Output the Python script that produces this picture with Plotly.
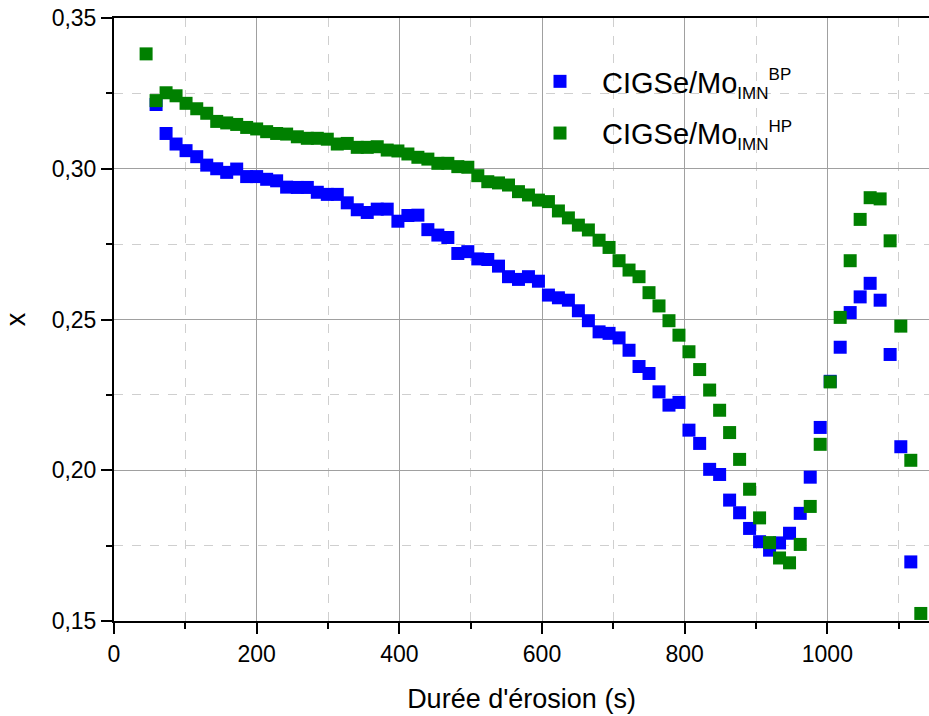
import plotly.graph_objects as go

# Erosion time (s) of each measurement
time_hp = [45, 59, 73, 87, 101, 116, 130, 144, 158, 172, 186, 200, 214, 228, 242, 257,
           271, 285, 299, 313, 327, 341, 355, 369, 383, 398, 412, 426, 440, 454, 468, 482,
           496, 510, 524, 539, 553, 567, 581, 595, 609, 623, 637, 651, 665, 680, 694, 708,
           722, 736, 750, 764, 778, 792, 806, 821, 835, 849, 863, 877, 891, 905, 919, 933,
           947, 962, 976, 990, 1004, 1018, 1032, 1046, 1060, 1074, 1088, 1103, 1117, 1131]
time_bp = time_hp[1:77]

# x values, CIGSe/Mo IMN HP (green)
x_hp = [0.3381, 0.3226, 0.3252, 0.3242, 0.3217, 0.3199, 0.3184, 0.3157, 0.3152, 0.3147,
        0.3137, 0.3132, 0.3123, 0.3117, 0.3115, 0.3106, 0.3101, 0.3101, 0.3098, 0.3082,
        0.3084, 0.3071, 0.3071, 0.3073, 0.3062, 0.3059, 0.3049, 0.3038, 0.3032, 0.3018,
        0.3018, 0.3007, 0.3005, 0.2977, 0.2957, 0.2953, 0.2946, 0.2924, 0.2913, 0.2896,
        0.2891, 0.2860, 0.2837, 0.2813, 0.2797, 0.2763, 0.2739, 0.2695, 0.2664, 0.2642,
        0.2589, 0.2545, 0.2496, 0.2448, 0.2393, 0.2334, 0.2266, 0.2199, 0.2125, 0.2036,
        0.1937, 0.1842, 0.1760, 0.1709, 0.1693, 0.1754, 0.1880, 0.2086, 0.2293, 0.2507,
        0.2695, 0.2832, 0.2904, 0.2900, 0.2761, 0.2478, 0.2033, 0.1525]

# x values, CIGSe/Mo IMN BP (blue)
x_bp = [0.3213, 0.3117, 0.3082, 0.3060, 0.3040, 0.3012, 0.3000, 0.2988, 0.2999, 0.2974,
        0.2974, 0.2965, 0.2960, 0.2939, 0.2938, 0.2938, 0.2922, 0.2915, 0.2915, 0.2887,
        0.2864, 0.2855, 0.2866, 0.2866, 0.2826, 0.2845, 0.2846, 0.2798, 0.2780, 0.2772,
        0.2719, 0.2725, 0.2701, 0.2699, 0.2677, 0.2642, 0.2633, 0.2642, 0.2627, 0.2581,
        0.2572, 0.2564, 0.2529, 0.2496, 0.2459, 0.2454, 0.2439, 0.2398, 0.2344, 0.2321,
        0.2260, 0.2216, 0.2225, 0.2133, 0.2089, 0.2003, 0.1986, 0.1901, 0.1859, 0.1807,
        0.1763, 0.1735, 0.1759, 0.1791, 0.1857, 0.1977, 0.2142, 0.2295, 0.2408, 0.2523,
        0.2575, 0.2620, 0.2564, 0.2384, 0.2078, 0.1696]

y_tickvals = [0.15, 0.20, 0.25, 0.30, 0.35]
y_ticktext = ["0,15", "0,20", "0,25", "0,30", "0,35"]
x_tickvals = [0, 200, 400, 600, 800, 1000]
x_ticktext = ["0", "200", "400", "600", "800", "1000"]

name_bp = ('CIGSe/Mo<sub><span style="font-size:17px">IMN</span></sub>'
           '<sup><span style="font-size:17px">BP</span></sup>')
name_hp = ('CIGSe/Mo<sub><span style="font-size:17px">IMN</span></sub>'
           '<sup><span style="font-size:17px">HP</span></sup>')

FONT = "Liberation Sans, Arial, sans-serif"

fig = go.Figure()
fig.add_trace(go.Scatter(x=time_bp, y=x_bp, mode="markers", name=name_bp,
                         legendgroup="bp",
                         marker=dict(symbol="square", size=13, color="#0000FF",
                                     line=dict(width=0))))
fig.add_trace(go.Scatter(x=time_hp, y=x_hp, mode="markers", name=name_hp,
                         legendgroup="hp",
                         marker=dict(symbol="square", size=13, color="#008000",
                                     line=dict(width=0))))

fig.update_layout(
    width=929, height=716,
    margin=dict(l=114, r=0, t=18, b=95),
    paper_bgcolor="white", plot_bgcolor="white",
    font=dict(family=FONT, size=23, color="black"),
    showlegend=True,
    legend=dict(x=0.4957, y=0.937, xanchor="left", yanchor="top",
                bgcolor="rgba(0,0,0,0)", borderwidth=0,
                font=dict(family=FONT, size=29, color="black"),
                itemwidth=74, tracegroupgap=11),
    xaxis=dict(range=[0, 1142.5], tickvals=x_tickvals, ticktext=x_ticktext,
               automargin=False,
               showline=True, linecolor="black", linewidth=2, mirror=True,
               ticks="outside", ticklen=11, tickwidth=2, tickcolor="black",
               showgrid=True, gridcolor="#a0a0a0", gridwidth=1, zeroline=False,
               minor=dict(dtick=100, tick0=0, ticks="outside", ticklen=6, tickwidth=2,
                          tickcolor="black", showgrid=True, gridcolor="#cfcfcf",
                          griddash="dash", gridwidth=1),
               title=dict(text="Durée d'érosion (s)", font=dict(family=FONT, size=27),
                          standoff=24)),
    yaxis=dict(range=[0.15, 0.35], tickvals=y_tickvals, ticktext=y_ticktext,
               automargin=False,
               showline=True, linecolor="black", linewidth=2,
               ticks="outside", ticklen=11, tickwidth=2, tickcolor="black",
               showgrid=True, gridcolor="#a0a0a0", gridwidth=1, zeroline=False,
               minor=dict(dtick=0.025, tick0=0.15, ticks="outside", ticklen=6, tickwidth=2,
                          tickcolor="black", showgrid=True, gridcolor="#cfcfcf",
                          griddash="dash", gridwidth=1),
               title=dict(text="x", font=dict(family=FONT, size=27), standoff=18)),
)

fig.write_html("out.html",
               config={"displayModeBar": False},
               post_script="document.body.style.margin='0px';document.body.style.overflow='hidden';")
